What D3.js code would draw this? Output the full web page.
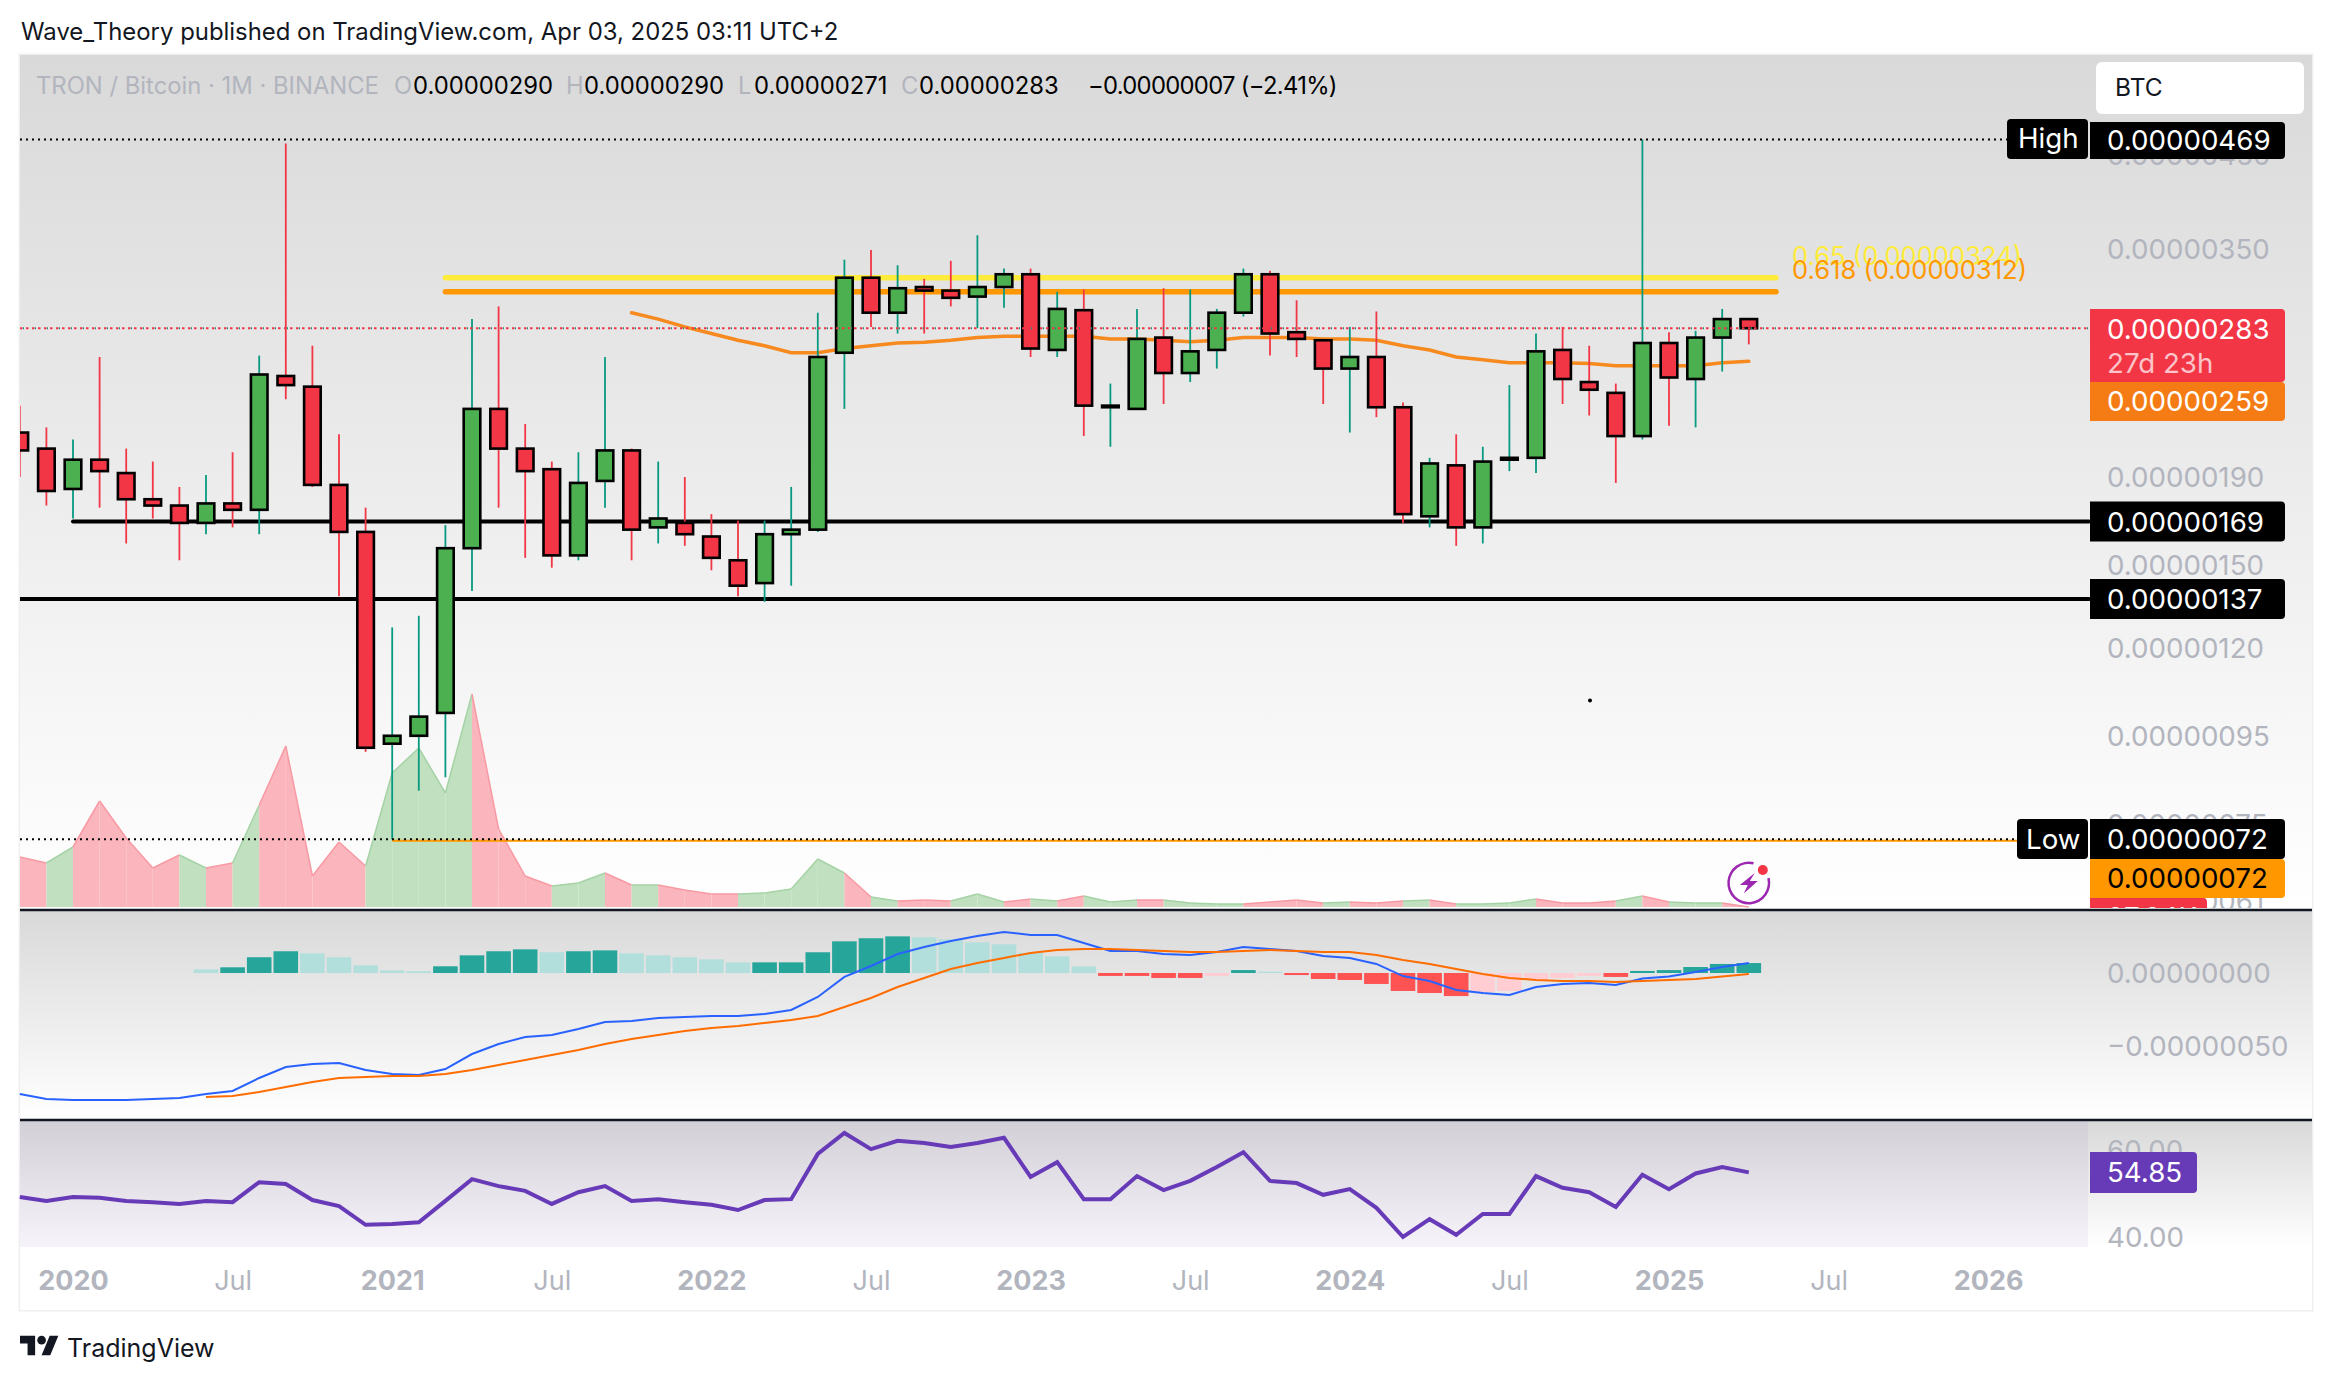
<!DOCTYPE html>
<html>
<head>
<meta charset="utf-8">
<script src="https://cdn.jsdelivr.net/npm/d3@7"></script>
<style>
    html, body { margin: 0; padding: 0; background: #fff; }
    svg { display: block; }
    text { font-family: Inter, "Liberation Sans", sans-serif; }
</style>
</head>
<body>
<svg id="chart" width="2332" height="1382"></svg>
<script>
// months shown on the time scale, first candle is cut by the left edge
const months = [
    "2019-11", "2019-12",
    "2020-01", "2020-02", "2020-03", "2020-04", "2020-05", "2020-06", "2020-07", "2020-08", "2020-09", "2020-10", "2020-11", "2020-12",
    "2021-01", "2021-02", "2021-03", "2021-04", "2021-05", "2021-06", "2021-07", "2021-08", "2021-09", "2021-10", "2021-11", "2021-12",
    "2022-01", "2022-02", "2022-03", "2022-04", "2022-05", "2022-06", "2022-07", "2022-08", "2022-09", "2022-10", "2022-11", "2022-12",
    "2023-01", "2023-02", "2023-03", "2023-04", "2023-05", "2023-06", "2023-07", "2023-08", "2023-09", "2023-10", "2023-11", "2023-12",
    "2024-01", "2024-02", "2024-03", "2024-04", "2024-05", "2024-06", "2024-07", "2024-08", "2024-09", "2024-10", "2024-11", "2024-12",
    "2025-01", "2025-02", "2025-03", "2025-04", "2025-05", "2025-06", "2025-07", "2025-08", "2025-09", "2025-10", "2025-11", "2025-12",
    "2026-01"
]
const timeTicks = ["2020-01", "2020-07", "2021-01", "2021-07", "2022-01", "2022-07", "2023-01", "2023-07", "2024-01", "2024-07", "2025-01", "2025-07", "2026-01"]

// prices in satoshi (1e-8 BTC)
const opens = [
    214, 205, 184, 199, 192, 179, 176, 168, 177, 174,
    249, 242, 186, 164, 93, 95, 101, 157, 228, 205,
    194, 154, 188, 204, 166, 168, 162, 152, 143, 163,
    165, 265, 324, 295, 316, 313, 308, 316, 327, 267,
    297, 229, 228, 276, 251, 267, 295, 327, 280, 274,
    254, 262, 229, 171, 196, 166, 199, 200, 267, 245,
    238, 212, 272, 247, 276, 290
]
const highs = [
    230, 217, 210, 262, 205, 198, 185, 191, 203, 263,
    464, 270, 213, 175, 127, 131, 167, 290, 300, 219,
    198, 203, 262, 205, 198, 190, 172, 169, 169, 185,
    295, 340, 349, 335, 323, 339, 363, 332, 332, 312,
    314, 244, 298, 315, 314, 298, 332, 330, 305, 275,
    284, 296, 232, 200, 213, 206, 243, 279, 284, 270,
    244, 469, 280, 281, 298, 290
]
const lows = [
    190, 176, 170, 175, 159, 170, 152, 163, 166, 163,
    234, 185, 138, 91, 72, 82, 85, 140, 175, 153,
    149, 152, 175, 152, 159, 158, 148, 138, 136, 142,
    164, 228, 284, 279, 279, 300, 283, 299, 262, 262,
    212, 206, 228, 231, 245, 254, 292, 263, 262, 231,
    214, 223, 168, 166, 158, 159, 193, 192, 231, 224,
    187, 210, 218, 217, 252, 271
]
const closes = [
    204, 183, 199, 193, 179, 176, 168, 177, 174, 250,
    243, 186, 164, 92, 95, 100, 157, 228, 205, 193,
    154, 187, 204, 165, 170, 163, 153, 142, 163, 165,
    262, 324, 295, 315, 313, 307, 316, 327, 268, 298,
    230, 230, 275, 251, 266, 295, 327, 279, 275, 254,
    262, 229, 172, 197, 166, 198, 200, 266, 247, 240,
    212, 272, 248, 276, 290, 283
]
const volumes = [
    50, 44, 60, 106, 69, 39, 52, 39, 44, 102,
    161, 31, 65, 41, 134, 159, 114, 213, 78, 31,
    21, 24, 34, 22, 22, 17, 13, 13, 14, 18,
    48, 34, 10, 6, 7, 6, 13, 5, 8, 6,
    11, 5, 7, 7, 4, 3, 3, 5, 7, 4,
    5, 4, 6, 7, 3, 3, 4, 8, 4, 4,
    6, 11, 5, 4, 4, 0
]
// moving average starts in Oct 2021
const maStart = "2021-10"
const maValues = [
    295, 290, 284, 279, 274, 270, 265, 265, 268, 270,
    272, 272.5, 274, 276, 277, 277, 277, 277, 275, 275,
    274, 273, 274, 276, 276, 276, 275, 275, 274, 270,
    267, 262, 260, 258, 258, 258, 257.5, 256, 256, 256,
    256, 258, 259
]
const macdValues = [
    -82.9, -86.3, -87, -87, -87, -86.3, -85.6, -82.9, -80.8, -71.9,
    -64.4, -62.3, -61.6, -66.4, -69.2, -69.9, -65.8, -55.5, -48.6, -43.8,
    -42.5, -38.4, -33.6, -32.9, -30.8, -30.1, -29.5, -29.5, -28.1, -25.3,
    -16.4, -2.7, 4.8, 13, 17.8, 21.9, 25.3, 28.1, 26, 26,
    20.5, 15.1, 15.1, 13, 12.3, 14.4, 17.8, 16.4, 15.1, 11.6,
    10.3, 6.2, -2.1, -5.5, -11.6, -13.7, -15.1, -9.6, -7.5, -6.8,
    -8.2, -3.8, -2.4, 0.7, 4.1, 6.8
]
// signal and histogram start in Jun 2020
const signalStart = "2020-06"
const signalValues = [
    -84.9, -84.2, -81.5, -78.1, -74.7, -71.9, -71.2, -70.5, -70.5, -69.2,
    -66.4, -63, -59.6, -56.2, -52.7, -48.6, -45.2, -42.5, -39.7, -37.7,
    -36.3, -34.2, -32.2, -29.5, -23.3, -17.1, -9.6, -3.4, 2.7, 6.8,
    10.3, 13.7, 15.8, 16.4, 16.4, 15.8, 15.1, 14.4, 14.4, 15.1,
    15.8, 15.1, 14.4, 14.4, 12.3, 8.9, 6.2, 2.7, -0.7, -3.4,
    -4.8, -5.5, -5.5, -6.2, -5.5, -4.8, -4.1, -2.4, -0.7
]
const histValues = [
    2.5, 3.9, 10.8, 14.9, 13.5, 10.8, 5.3, 1.8, 1.2, 4.6,
    12.1, 14.9, 16.2, 14.2, 14.9, 15.5, 13.5, 12.1, 10.8, 9.4,
    7.3, 7.3, 7.3, 14.2, 21.7, 23.8, 25.1, 24.5, 23.1, 21,
    19.7, 13.9, 11.4, 4.6, -2, -2, -3.4, -3.4, -2, 2,
    0.9, -1.4, -4.1, -4.8, -7.5, -12.3, -13.7, -15.8, -13, -12.3,
    -4.8, -3.4, -2, -2.7, 1.4, 2, 4.1, 6.2, 6.8
]
// 1 = strong colour of the histogram, 0 = pale colour
const histStrong = [
    0, 1, 1, 1, 0, 0, 0, 0, 0, 1,
    1, 1, 1, 0, 1, 1, 0, 0, 0, 0,
    0, 1, 1, 1, 1, 1, 1, 0, 0, 0,
    0, 0, 0, 0, 1, 1, 1, 1, 0, 1,
    0, 1, 1, 1, 1, 1, 1, 1, 0, 0,
    0, 0, 0, 1, 1, 1, 1, 1, 1
]
const rsiValues = [
    49.2, 48.3, 49.2, 49, 48.3, 48, 47.6, 48.3, 48, 52.6,
    52.2, 48.5, 47.1, 42.8, 43, 43.4, 48.3, 53.3, 51.7, 50.6,
    47.6, 50.3, 51.7, 48.3, 48.7, 48, 47.4, 46.2, 48.5, 48.7,
    59.1, 63.9, 60.2, 62.1, 61.6, 60.7, 61.6, 62.8, 53.8, 57.2,
    48.7, 48.7, 54, 50.8, 52.9, 56.1, 59.5, 52.9, 52.4, 49.7,
    51, 46.7, 40, 44.1, 40.5, 45.3, 45.3, 54, 51.3, 50.3,
    46.9, 54.3, 51, 54.6, 56.1, 54.85
]
const priceTicks = [450, 350, 190, 150, 120, 95, 75, 61]
const macdTicks = [0, -50]
const rsiTicks = [60, 40]
const fibLevels = [
    {label: "0.65 (0.00000324)", value: 324, color: "#ffeb3b"},
    {label: "0.618 (0.00000312)", value: 312, color: "#ff9800"}
]
const supportLevels = [
    {start: "2020-01", value: 168.6, label: "0.00000169"},
    {start: "2019-11", value: 137, label: "0.00000137"}
]
const legendParts = [
    {x: 36, text: "TRON / Bitcoin · 1M · BINANCE", fill: "#b2b5be", spacing: 0},
    {x: 394, text: "O", fill: "#b2b5be", spacing: 0},
    {x: 413, text: "0.00000290", fill: "#000", spacing: 0},
    {x: 566, text: "H", fill: "#b2b5be", spacing: 0},
    {x: 584, text: "0.00000290", fill: "#000", spacing: 0},
    {x: 738, text: "L", fill: "#b2b5be", spacing: 0},
    {x: 754, text: "0.00000271", fill: "#000", spacing: 0},
    {x: 901, text: "C", fill: "#b2b5be", spacing: 0},
    {x: 919, text: "0.00000283", fill: "#000", spacing: 0},
    {x: 1088, text: "−0.00000007 (−2.41%)", fill: "#000", spacing: -0.7}
]

const LEFT = 20, PLOT_RIGHT = 2089, RIGHT = 2312, AXIS_X = 2107, BOX_X = 2090, BOX_END = 2285
const MAIN_TOP = 55, MAIN_BOTTOM = 908, MACD_TOP = 911, MACD_BOTTOM = 1119, RSI_TOP = 1121, RSI_BOTTOM = 1247, FRAME_BOTTOM = 1310
const RED = "#f23645", GREEN = "#4caf50", TEAL = "#089981", GREY = "#b2b5be"
const LABEL_SIZE = 27.7

const svg = d3.select("#chart")
const defs = svg.append("defs")

let xScale = d3.scalePoint().domain(months).range([19.8, 1988.2]),
    yPrice = d3.scaleLog().domain([59.8, 587]).range([908.6, 55.8]),
    yVolume = d3.scaleLinear().domain([0, 213]).range([907, 694]),
    yMacd = d3.scaleLinear().domain([0, -50]).range([973, 1046]),
    yRsi = d3.scaleLinear().domain([40, 60]).range([1237, 1150])

const candles = months.slice(0, opens.length).map((month, i) => ({
    month: month,
    open: opens[i],
    high: highs[i],
    low: lows[i],
    close: closes[i],
    volume: volumes[i],
    up: closes[i] >= opens[i]
}))

function addGradient(id, from, to) {
    let gradient = defs.append("linearGradient")
        .attr("id", id)
        .attr("x1", 0).attr("y1", 0)
        .attr("x2", 0).attr("y2", 1)

    gradient.append("stop").attr("offset", "0%").attr("stop-color", from)
    gradient.append("stop").attr("offset", "100%").attr("stop-color", to)
}

addGradient("paneGradient", "#d9d9d9", "#ffffff")
addGradient("rsiGradient", "#d2cfd6", "#f6f3fb")

defs.append("clipPath").attr("id", "mainClip")
    .append("rect")
    .attr("x", LEFT).attr("y", MAIN_TOP)
    .attr("width", RIGHT - LEFT).attr("height", MAIN_BOTTOM - MAIN_TOP)

// Outer frame
svg.append("rect")
    .attr("x", LEFT - 0.75).attr("y", MAIN_TOP - 0.75)
    .attr("width", RIGHT - LEFT + 1.5).attr("height", FRAME_BOTTOM - MAIN_TOP + 1.5)
    .attr("fill", "none")
    .attr("stroke", "#f0f0f0")
    .attr("stroke-width", 1.5)

// Panes background
svg.append("rect")
    .attr("x", LEFT).attr("y", MAIN_TOP)
    .attr("width", RIGHT - LEFT).attr("height", MAIN_BOTTOM - MAIN_TOP)
    .attr("fill", "url(#paneGradient)")

svg.append("rect")
    .attr("x", LEFT).attr("y", MACD_TOP)
    .attr("width", RIGHT - LEFT).attr("height", MACD_BOTTOM - MACD_TOP)
    .attr("fill", "url(#paneGradient)")

svg.append("rect")
    .attr("x", LEFT).attr("y", RSI_TOP)
    .attr("width", RIGHT - LEFT).attr("height", RSI_BOTTOM - RSI_TOP)
    .attr("fill", "url(#paneGradient)")

svg.append("rect")
    .attr("x", LEFT).attr("y", RSI_TOP)
    .attr("width", PLOT_RIGHT - LEFT - 1).attr("height", RSI_BOTTOM - RSI_TOP)
    .attr("fill", "url(#rsiGradient)")

// Pane separators
svg.selectAll("line.separator")
    .data([910, 1120])
    .join("line")
    .attr("class", "separator")
    .attr("x1", LEFT).attr("x2", RIGHT)
    .attr("y1", datum => datum).attr("y2", datum => datum)
    .attr("stroke", "#131722")
    .attr("stroke-width", 2.5)

// Header
svg.append("text")
    .text("Wave_Theory published on TradingView.com, Apr 03, 2025 03:11 UTC+2")
    .attr("x", 21).attr("y", 40)
    .attr("font-size", 23.9)
    .attr("fill", "#131722")

// Main pane
const main = svg.append("g").attr("clip-path", "url(#mainClip)")

// Volume, every segment takes the colour of its right candle
const volumeArea = d3.area()
    .x(datum => xScale(datum.month))
    .y0(yVolume(0))
    .y1(datum => yVolume(datum.volume))
const volumeLine = d3.line()
    .x(datum => xScale(datum.month))
    .y(datum => yVolume(datum.volume))

d3.pairs(candles).forEach(pair => {
    let up = pair[1].up

    main.append("path")
        .datum(pair)
        .attr("d", volumeArea)
        .attr("fill", up ? "#c0e0bf" : "#fbb5bc")
    main.append("path")
        .datum(pair)
        .attr("d", volumeLine)
        .attr("fill", "none")
        .attr("stroke", up ? "#a5d3a6" : "#f79aa3")
        .attr("stroke-width", 1.5)
})

// Fibonacci levels
main.selectAll("line.fib")
    .data(fibLevels)
    .join("line")
    .attr("class", "fib")
    .attr("x1", xScale("2021-03")).attr("x2", 1776)
    .attr("y1", datum => yPrice(datum.value)).attr("y2", datum => yPrice(datum.value))
    .attr("stroke", datum => datum.color)
    .attr("stroke-width", 5.5)
    .attr("stroke-linecap", "round")

main.selectAll("text.fib-label")
    .data(fibLevels)
    .join("text")
    .attr("class", "fib-label")
    .text(datum => datum.label)
    .attr("x", 1792)
    .attr("y", (datum, i) => i === 0 ? 265 : 278.5)
    .attr("font-size", 25.6)
    .attr("fill", datum => datum.color)

// Support levels
main.selectAll("line.support")
    .data(supportLevels)
    .join("line")
    .attr("class", "support")
    .attr("x1", datum => xScale(datum.start) < 25 ? LEFT : xScale(datum.start))
    .attr("x2", PLOT_RIGHT)
    .attr("y1", datum => yPrice(datum.value)).attr("y2", datum => yPrice(datum.value))
    .attr("stroke", "#000")
    .attr("stroke-width", 4)
    .attr("stroke-linecap", "round")

// Moving average
main.append("path")
    .datum(maValues)
    .attr("d", d3.line()
        .x((datum, i) => xScale(months[months.indexOf(maStart) + i]))
        .y(datum => yPrice(datum)))
    .attr("fill", "none")
    .attr("stroke", "#f68a1e")
    .attr("stroke-width", 3.5)
    .attr("stroke-linecap", "round")

// Wicks and bodies
main.selectAll("line.wick")
    .data(candles)
    .join("line")
    .attr("class", "wick")
    .attr("x1", datum => xScale(datum.month)).attr("x2", datum => xScale(datum.month))
    .attr("y1", datum => yPrice(datum.high)).attr("y2", datum => yPrice(datum.low))
    .attr("stroke", datum => datum.up ? TEAL : RED)
    .attr("stroke-width", 1.8)

main.selectAll("rect.body")
    .data(candles)
    .join("rect")
    .attr("class", "body")
    .attr("x", datum => xScale(datum.month) - 8.3)
    .attr("width", 16.6)
    .attr("y", datum => yPrice(Math.max(datum.open, datum.close)))
    .attr("height", datum => Math.abs(yPrice(datum.open) - yPrice(datum.close)))
    .attr("fill", datum => datum.up ? GREEN : RED)
    .attr("stroke", "#000")
    .attr("stroke-width", 2.6)

// Last price, high and low lines
const lastPrice = closes[closes.length - 1]

main.append("line")
    .attr("x1", LEFT).attr("x2", PLOT_RIGHT)
    .attr("y1", yPrice(lastPrice)).attr("y2", yPrice(lastPrice))
    .attr("stroke", RED)
    .attr("stroke-width", 2)
    .attr("stroke-dasharray", "2.5 3.5")
main.append("line")
    .attr("x1", LEFT + 3).attr("x2", PLOT_RIGHT)
    .attr("y1", yPrice(lastPrice)).attr("y2", yPrice(lastPrice))
    .attr("stroke", TEAL)
    .attr("stroke-width", 2)
    .attr("stroke-dasharray", "1 11")

main.append("line")
    .attr("x1", LEFT).attr("x2", 2007)
    .attr("y1", yPrice(469)).attr("y2", yPrice(469))
    .attr("stroke", "#000")
    .attr("stroke-width", 2)
    .attr("stroke-dasharray", "2 4")

main.append("line")
    .attr("x1", xScale("2021-01")).attr("x2", 2017)
    .attr("y1", yPrice(72) + 1.5).attr("y2", yPrice(72) + 1.5)
    .attr("stroke", "#ff9800")
    .attr("stroke-width", 2)

main.append("line")
    .attr("x1", LEFT).attr("x2", 2017)
    .attr("y1", yPrice(72)).attr("y2", yPrice(72))
    .attr("stroke", "#000")
    .attr("stroke-width", 2)
    .attr("stroke-dasharray", "2 4")

// Stray point left on the chart
main.append("circle").attr("cx", 1590).attr("cy", 700.5).attr("r", 2).attr("fill", "#000")

// Energy icon above the last candle
const icon = main.append("g").attr("transform", `translate(${xScale("2025-04")}, 883)`)

icon.append("path")
    .attr("d", d3.arc()({innerRadius: 19, outerRadius: 21.5, startAngle: 1.33, endAngle: 6.52}))
    .attr("fill", "#9c27b0")
icon.append("path")
    .attr("d", "M6 -10 L-9 2 L-1 2 L-5 10.5 L9 -2 L1 -2 Z")
    .attr("fill", "#9c27b0")
icon.append("circle")
    .attr("cx", 14).attr("cy", -13)
    .attr("r", 5)
    .attr("fill", RED)

// Right side axis labels share the same look
function styleAxis(axis) {
    axis.select(".domain").remove()
    axis.selectAll("text")
        .attr("dy", "0.34em")
        .attr("font-size", LABEL_SIZE)
        .attr("font-family", "Inter, sans-serif")
        .attr("fill", GREY)
}

// Price axis
const priceAxis = main.append("g")
    .attr("transform", `translate(${AXIS_X}, 0)`)
    .call(d3.axisRight(yPrice)
        .tickValues(priceTicks)
        .tickSize(0)
        .tickPadding(0)
        .tickFormat(datum => (datum / 1e8).toFixed(8)))

styleAxis(priceAxis)

function priceBox(parent, top, bottom, fill, end) {
    let right = end === undefined ? BOX_END : end

    parent.append("path")
        .attr("d", `M${BOX_X} ${top}H${right - 4}Q${right} ${top} ${right} ${top + 4}V${bottom - 4}Q${right} ${bottom} ${right - 4} ${bottom}H${BOX_X}Z`)
        .attr("fill", fill)
}

function boxText(parent, text, x, y, fill) {
    parent.append("text")
        .text(text)
        .attr("x", x).attr("y", y)
        .attr("dy", "0.36em")
        .attr("font-size", LABEL_SIZE)
        .attr("fill", fill)
}

// Volume label, cut by the pane border
priceBox(main, 898, 930, RED, 2207)
boxText(main, "27.64K", AXIS_X, 917, "#fff")

// High
main.append("rect")
    .attr("x", 2007).attr("y", 119)
    .attr("width", 81).attr("height", 40)
    .attr("rx", 4)
    .attr("fill", "#000")
boxText(main, "High", 2018, 138, "#fff")
priceBox(main, 122, 159, "#000")
boxText(main, "0.00000469", AXIS_X, 140, "#fff")

// Last price and moving average
priceBox(main, 309, 382, RED)
boxText(main, "0.00000283", AXIS_X, 329, "#fff")
boxText(main, "27d 23h", AXIS_X, 363, "#fbc4c9")
priceBox(main, 382, 421, "#f57c14")
boxText(main, "0.00000259", AXIS_X, 401, "#fff")

// Support labels
supportLevels.forEach(level => {
    let center = yPrice(level.value)

    priceBox(main, center - 20, center + 20, "#000")
    boxText(main, level.label, AXIS_X, center, "#fff")
})

// Low
main.append("rect")
    .attr("x", 2017).attr("y", 819)
    .attr("width", 71).attr("height", 40)
    .attr("rx", 4)
    .attr("fill", "#000")
boxText(main, "Low", 2026, 839, "#fff")
priceBox(main, 819, 859, "#000")
boxText(main, "0.00000072", AXIS_X, 839, "#fff")
priceBox(main, 859, 898, "#ff9800")
boxText(main, "0.00000072", AXIS_X, 878, "#000")

// Symbol legend and currency button
svg.selectAll("text.legend")
    .data(legendParts)
    .join("text")
    .attr("class", "legend")
    .text(datum => datum.text)
    .attr("x", datum => datum.x)
    .attr("y", 94)
    .attr("font-size", 23.8)
    .attr("letter-spacing", datum => datum.spacing)
    .attr("fill", datum => datum.fill)

svg.append("rect")
    .attr("x", 2096).attr("y", 62)
    .attr("width", 208).attr("height", 52)
    .attr("rx", 6)
    .attr("fill", "#fff")
svg.append("text")
    .text("BTC")
    .attr("x", 2115).attr("y", 96)
    .attr("font-size", 24.5)
    .attr("fill", "#131722")

// MACD pane
const macdPane = svg.append("g")

macdPane.selectAll("rect.hist")
    .data(histValues)
    .join("rect")
    .attr("class", "hist")
    .attr("x", (datum, i) => xScale(months[months.indexOf(signalStart) + i]) - 12.3)
    .attr("width", 24.6)
    .attr("y", datum => yMacd(Math.max(datum, 0)))
    .attr("height", datum => Math.abs(yMacd(datum) - yMacd(0)))
    .attr("fill", (datum, i) => {
        if (datum >= 0) return histStrong[i] === 1 ? "#26a69a" : "#b2dfdb"
        return histStrong[i] === 1 ? "#ff5252" : "#ffcdd2"
    })

macdPane.append("path")
    .datum(macdValues)
    .attr("d", d3.line().x((datum, i) => xScale(months[i])).y(datum => yMacd(datum)))
    .attr("fill", "none")
    .attr("stroke", "#2962ff")
    .attr("stroke-width", 2)

macdPane.append("path")
    .datum(signalValues)
    .attr("d", d3.line()
        .x((datum, i) => xScale(months[months.indexOf(signalStart) + i]))
        .y(datum => yMacd(datum)))
    .attr("fill", "none")
    .attr("stroke", "#ff6d00")
    .attr("stroke-width", 2)

const macdAxis = macdPane.append("g")
    .attr("transform", `translate(${AXIS_X}, 0)`)
    .call(d3.axisRight(yMacd)
        .tickValues(macdTicks)
        .tickSize(0)
        .tickPadding(0)
        .tickFormat(datum => (datum < 0 ? "−" : "") + (Math.abs(datum) / 1e8).toFixed(8)))

styleAxis(macdAxis)

// RSI pane
const rsiPane = svg.append("g")

rsiPane.append("path")
    .datum(rsiValues)
    .attr("d", d3.line().x((datum, i) => xScale(months[i])).y(datum => yRsi(datum)))
    .attr("fill", "none")
    .attr("stroke", "#673ab7")
    .attr("stroke-width", 4)

const rsiAxis = rsiPane.append("g")
    .attr("transform", `translate(${AXIS_X}, 0)`)
    .call(d3.axisRight(yRsi)
        .tickValues(rsiTicks)
        .tickSize(0)
        .tickPadding(0)
        .tickFormat(d3.format(".2f")))

styleAxis(rsiAxis)

priceBox(rsiPane, 1152, 1193, "#673ab7", 2197)
boxText(rsiPane, "54.85", AXIS_X, yRsi(54.85), "#fff")

// Time axis
const timeAxis = svg.append("g")
    .attr("transform", `translate(0, 1271)`)
    .call(d3.axisBottom(xScale)
        .tickValues(timeTicks)
        .tickSize(0)
        .tickPadding(0)
        .tickFormat(datum => datum.endsWith("-01") ? datum.slice(0, 4) : "Jul"))

timeAxis.select(".domain").remove()
timeAxis.selectAll("text")
    .attr("dy", "0.72em")
    .attr("font-size", 27)
    .attr("font-family", "Inter, sans-serif")
    .attr("font-weight", datum => datum.endsWith("-01") ? 700 : 400)
    .attr("fill", GREY)

// TradingView logo
const logo = svg.append("g").attr("transform", "translate(20, 1331.5) scale(1.08)")

logo.append("path")
    .attr("d", "M14 22H7V11H0V4h14v18zM28 22h-8l7.5-18h8L28 22z")
    .attr("fill", "#131722")
logo.append("circle")
    .attr("cx", 20).attr("cy", 8)
    .attr("r", 4)
    .attr("fill", "#131722")

svg.append("text")
    .text("TradingView")
    .attr("x", 67).attr("y", 1357)
    .attr("font-size", 25)
    .attr("font-weight", 400)
    .attr("fill", "#131722")
</script>
</body>
</html>
